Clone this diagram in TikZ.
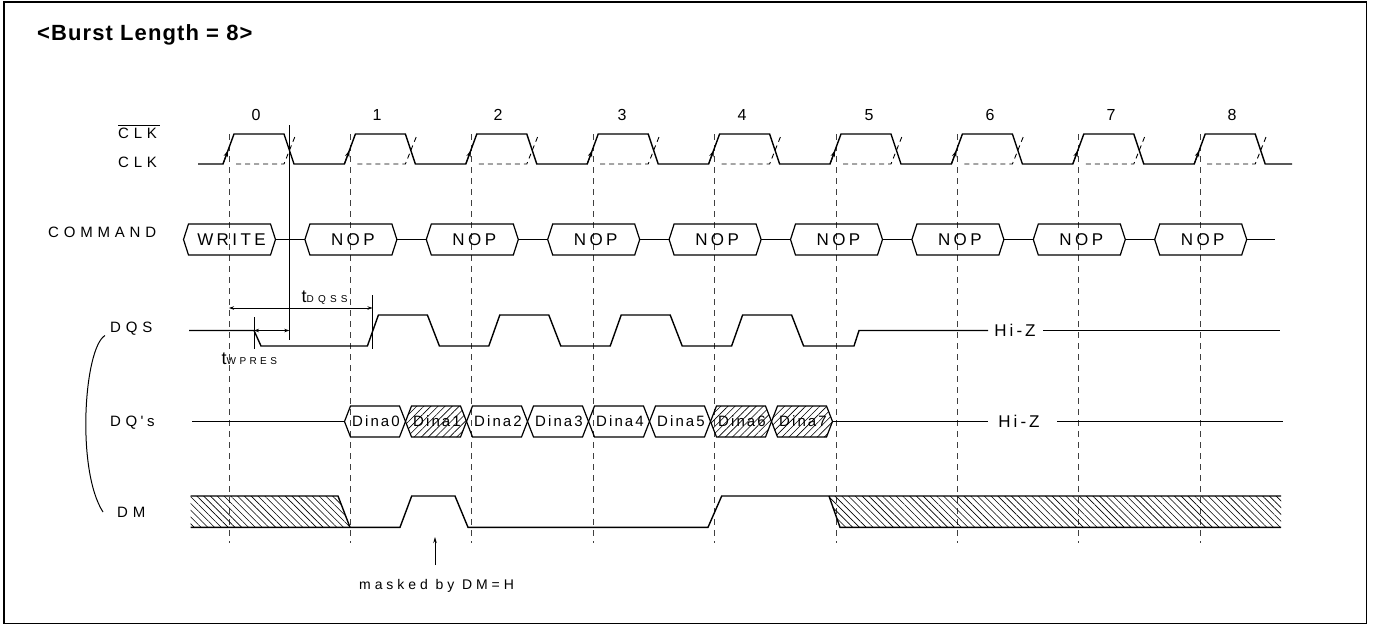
\documentclass[tikz,border=0pt]{standalone}
\usepackage{fontspec}
\setmainfont{Liberation Sans}
\usetikzlibrary{arrows.meta,patterns.meta}
\newcommand{\lsp}[2]{{\addfontfeatures{LetterSpace=#1}#2}}
\begin{document}
\begin{tikzpicture}[x=1pt,y=-1pt,
  sig/.style={line width=1.4pt},
  boxl/.style={line width=1.2pt},
  vgrid/.style={line width=0.9pt, dash pattern=on 6pt off 5pt, black!75},
  cdash/.style={line width=0.9pt, dash pattern=on 5pt off 4pt},
  thinl/.style={line width=0.8pt},
  dimarr/.style={thinl,{Stealth[length=5pt,width=3.5pt]}-{Stealth[length=5pt,width=3.5pt]}},
  txt/.style={inner sep=0pt,font=\fontsize{15}{17}\selectfont},
  cmdtxt/.style={inner sep=0pt,font=\fontsize{17}{19}\selectfont},
  dintxt/.style={inner sep=0pt,font=\fontsize{15}{17}\selectfont},
  hatchup/.style={pattern={Lines[angle=45,distance=5pt,line width=0.6pt]}},
  hatchdn/.style={pattern={Lines[angle=-45,distance=4.8pt,line width=0.6pt]}}]
\fill[white] (0,0) rectangle (1374,625);
\useasboundingbox (0,0) rectangle (1374,625);
\draw[line width=1.5pt] (4,2) rectangle (1366.5,623.5);

% title
\node[inner sep=0pt,anchor=west,font=\fontsize{22}{24}\selectfont\bfseries] (title) at (37,35) {\lsp{5}{<Burst Length = 8>}};

% grid lines
\foreach \k in {0,...,8}
  \draw[vgrid] ({229+121.4*\k},134) -- ({229+121.4*\k},543);

% clock
\draw[sig] (198,164) \foreach \k in {0,...,8}{ -- ({229+121.4*\k-6},164) -- ({229+121.4*\k+5},134) -- ({229+121.4*\k+55},134) -- ({229+121.4*\k+65},164) } -- (1292,164);
\foreach \k in {0,...,8}{
  \draw[cdash] ({229+121.4*\k+7},164) -- ({229+121.4*\k+55},164) -- ({229+121.4*\k+67},134);
  \draw[line width=0.9pt,-{Stealth[length=6.5pt,width=4.5pt]}] ({229+121.4*\k-6},164) -- ({229+121.4*\k-1},150.5);
}
\foreach \n/\x in {0/256,1/377,2/498,3/622,4/742,5/869,6/990,7/1111,8/1232}
  \node[txt,font=\fontsize{16}{17}\selectfont] (num\n) at (\x,115) {\n};

% left labels
\node[txt,anchor=west] (clkb) at (118,133.5) {\lsp{32}{CLK}};
\draw[thinl] (118,125.5) -- (160,125.5);
\node[txt,anchor=west] (clk) at (118,162) {\lsp{32}{CLK}};
\node[txt,anchor=west] (cmdl) at (48,232) {\lsp{32}{COMMAND}};
\node[txt,anchor=west] (dqsl) at (110,329) {\lsp{32}{DQS}};
\node[txt,anchor=west] (dql) at (110,422.5) {D\kern4.5pt Q\kern3.5pt\textquotesingle\kern3.5pt s};
\node[txt,anchor=west] (dml) at (117,512) {\lsp{32}{DM}};
\draw[line width=1pt] (105,335.5) .. controls (84,348) and (76,470) .. (103,512);

% command
\foreach \k/\t in {0/WRITE,1/NOP,2/NOP,3/NOP,4/NOP,5/NOP,6/NOP,7/NOP,8/NOP}{
  \draw[boxl] ({229.5+121.4*\k-46},239.5) -- ({229.5+121.4*\k-41},224) -- ({229.5+121.4*\k+41},224) -- ({229.5+121.4*\k+46},239.5) -- ({229.5+121.4*\k+41},255) -- ({229.5+121.4*\k-41},255) -- cycle;
  \node[cmdtxt] (cmd\k) at ({231.5+121.4*\k},239.5) {\lsp{20}{\t}};
}
\foreach \k in {0,...,7}
  \draw[sig] ({229.5+121.4*\k+46},239.5) -- ({229.5+121.4*\k+121.4-46},239.5);
\draw[sig] ({229.5+121.4*8+46},239.5) -- (1275,239.5);

% DQS
\draw[sig] (189,330.5) -- (254,330.5) -- (261,346) \foreach \k in {1,...,4}{ -- ({229+121.4*\k+17},346) -- ({229+121.4*\k+28},315) -- ({229+121.4*\k+77},315) -- ({229+121.4*\k+89},346)} -- (854,346) -- (859,330.5) -- (988,330.5);
\node[cmdtxt] (hiz1) at (1015,330.5) {\lsp{18}{Hi-Z}};
\draw[sig] (1043,330.5) -- (1280,330.5);

% timing marks
\draw[thinl] (289.3,125) -- (289.3,340);
\draw[thinl] (372.5,295) -- (372.5,349);
\draw[thinl] (254,317) -- (254,349);
\draw[dimarr] (229,308) -- (372.5,308);
\draw[dimarr] (254,330.5) -- (289.3,330.5);
\node[inner sep=0pt,anchor=base west,font=\fontsize{18}{20}\selectfont] (tdqss) at (301.5,302) {t{\fontsize{10}{11}\selectfont\lsp{42}{DQSS}}};
\node[inner sep=0pt,anchor=base west,font=\fontsize{18}{20}\selectfont] (twpres) at (221.5,364.5) {t{\fontsize{10}{11}\selectfont\lsp{34}{WPRES}}};

% DQ's
\draw[sig] (192,421.5) -- (344.5,421.5);
\foreach \i/\h in {0/0,1/1,2/0,3/0,4/0,5/0,6/1,7/1}{
  \ifnum\h=1
    \fill[hatchup] ({344.5+61*\i},421.5) -- ({344.5+61*\i+6},406) -- ({344.5+61*\i+55},406) -- ({344.5+61*\i+61},421.5) -- ({344.5+61*\i+55},437) -- ({344.5+61*\i+6},437) -- cycle;
  \fi
  \draw[boxl] ({344.5+61*\i},421.5) -- ({344.5+61*\i+6},406) -- ({344.5+61*\i+55},406) -- ({344.5+61*\i+61},421.5) -- ({344.5+61*\i+55},437) -- ({344.5+61*\i+6},437) -- cycle;
  \node[dintxt] (din\i) at ({344.5+61*\i+31.5},421.5) {\lsp{14}{Dina\i}};
}
\draw[sig] (832.5,421.5) -- (988,421.5);
\node[cmdtxt] (hiz2) at (1019,421.5) {\lsp{18}{Hi-Z}};
\draw[sig] (1057,421.5) -- (1283,421.5);

% DM
\fill[hatchdn] (190.7,496) -- (338,496) -- (350,527.3) -- (190.7,527.3) -- cycle;
\draw[sig] (190.7,496) -- (338,496) -- (350,527.3);
\draw[sig] (190.7,527.3) -- (400,527.3) -- (411.7,496) -- (455,496) -- (468,527.3) -- (708,527.3) -- (721.7,496) -- (1281,496);
\fill[hatchdn] (829,496) -- (1281,496) -- (1281,527.3) -- (840,527.3) -- cycle;
\draw[sig] (829,496) -- (840,527.3) -- (1281,527.3);

% masked note
\draw[thinl,-{Stealth[length=6pt,width=3.5pt]}] (435,565) -- (435,537);
\node[inner sep=0pt,anchor=west,font=\fontsize{14}{16}\selectfont] (mask) at (359,586) {\lsp{28}{masked by DM=H}};
\end{tikzpicture}
\end{document}
